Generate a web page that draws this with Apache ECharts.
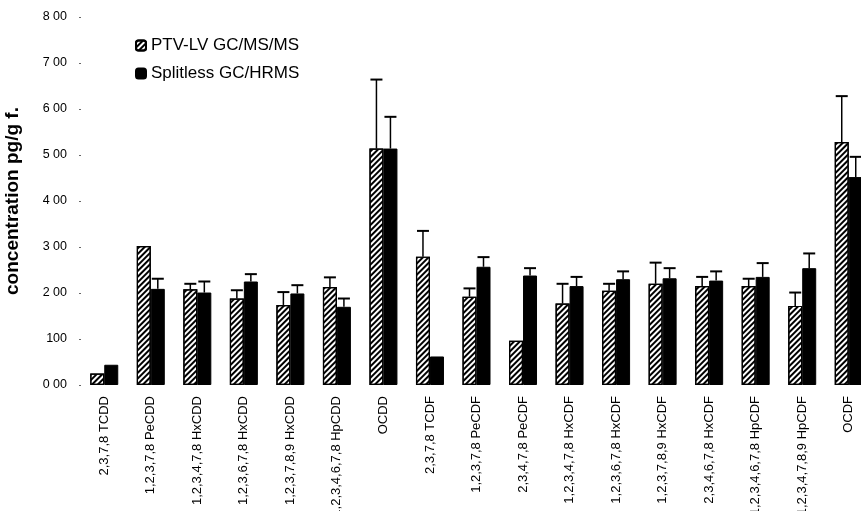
<!DOCTYPE html>
<html><head><meta charset="utf-8">
<script src="https://cdn.jsdelivr.net/npm/echarts@6/dist/echarts.min.js"></script>
<style>html,body{margin:0;padding:0;background:#fff}#c{width:861px;height:511px}</style>
</head><body><div id="c"></div>
<script>
var categories = ["2,3,7,8 TCDD","1,2,3,7,8 PeCDD","1,2,3,4,7,8 HxCDD","1,2,3,6,7,8 HxCDD","1,2,3,7,8,9 HxCDD","1,2,3,4,6,7,8 HpCDD","OCDD","2,3,7,8 TCDF","1,2,3,7,8 PeCDF","2,3,4,7,8 PeCDF","1,2,3,4,7,8 HxCDF","1,2,3,6,7,8 HxCDF","1,2,3,7,8,9 HxCDF","2,3,4,6,7,8 HxCDF","1,2,3,4,6,7,8 HpCDF","1,2,3,4,7,8,9 HpCDF","OCDF"];
var ptvValues = [25, 302, 208, 188, 174, 213, 514, 279, 192, 96, 177, 205, 220, 215, 215, 172, 528];
var ptvErrors = [0, 0, 12, 18, 28, 21, 150, 56, 18, 0, 43, 15, 46, 20, 16, 29, 100];
var hrmsValues = [44, 209, 201, 225, 199, 170, 514, 62, 257, 238, 215, 230, 232, 227, 235, 254, 452];
var hrmsErrors = [0, 22, 24, 16, 18, 18, 69, 0, 21, 16, 20, 17, 22, 20, 30, 32, 44];
var yTickLabels = {0:"0 00",100:"100",200:"2 00",300:"3 00",400:"4 00",500:"5 00",600:"6 00",700:"7 00",800:"8 00"};
var seriesNames = ["PTV-LV GC/MS/MS", "Splitless GC/HRMS"];

var FONT = "Liberation Sans, Arial, sans-serif";
var chart = echarts.init(document.getElementById('c'), null, {renderer:'canvas'});

function errData(vals, errs){
  return vals.map(function(v,i){ return [i, v, v + errs[i]]; });
}
function errRender(offset){
  return function(params, api){
    var idx = api.value(0), v = api.value(1), top = api.value(2);
    if (top <= v) return null;
    var p0 = api.coord([idx, v]);
    var p1 = api.coord([idx, top]);
    var x = p0[0] + offset;
    var cap = 6;
    return {type:'group', children:[
      {type:'line', shape:{x1:x, y1:p0[1], x2:x, y2:p1[1]}, style:{stroke:'#000', lineWidth:1.5}},
      {type:'line', shape:{x1:x-cap, y1:p1[1], x2:x+cap, y2:p1[1]}, style:{stroke:'#000', lineWidth:2}}
    ]};
  };
}

var option = {
  backgroundColor:'#fff',
  animation:false,
  textStyle:{fontFamily:FONT},
  legend:{
    orient:'vertical', left:130, top:32, itemWidth:10, itemHeight:10, itemGap:11,
    textStyle:{fontSize:17, color:'#000', fontFamily:FONT},
    data:seriesNames
  },
  grid:{left:81, right:-11, top:17, bottom:126, containLabel:false, outerBoundsMode:'none'},
  xAxis:{
    type:'category', data:categories,
    axisLine:{show:false}, axisTick:{show:false},
    axisLabel:{rotate:90, fontSize:13, color:'#000', margin:11, interval:0, fontFamily:FONT}
  },
  yAxis:{
    type:'value', min:0, max:800, interval:100,
    name:'concentration pg/g f.', nameLocation:'middle', nameGap:59,
    nameTextStyle:{fontSize:19, fontWeight:'bold', color:'#000', fontFamily:FONT},
    axisLine:{show:false},
    axisTick:{show:true, length:2, lineStyle:{color:'#666'}},
    splitLine:{show:false},
    axisLabel:{fontSize:12.5, color:'#000', margin:14, fontFamily:FONT,
      formatter:function(v){ return yTickLabels[v] !== undefined ? yTickLabels[v] : v; }}
  },
  series:[
    {name:seriesNames[0], type:'bar', data:ptvValues, barWidth:14, barGap:'0%',
     itemStyle:{color:'#fff', borderColor:'#000', borderWidth:1.2,
       decal:{symbol:'rect', symbolSize:1, dashArrayX:[1,0], dashArrayY:[1.6,1.6], rotation:-Math.PI/4, color:'#000'}}},
    {name:seriesNames[1], type:'bar', data:hrmsValues, barWidth:14, barGap:'0%',
     itemStyle:{color:'#000', borderColor:'#000', borderWidth:1}},
    {type:'custom', name:'errA', data:errData(ptvValues, ptvErrors), renderItem:errRender(-7),
     encode:{x:0, y:[1,2]}, z:5, silent:true},
    {type:'custom', name:'errB', data:errData(hrmsValues, hrmsErrors), renderItem:errRender(7),
     encode:{x:0, y:[1,2]}, z:5, silent:true}
  ]
};
chart.setOption(option);
</script></body></html>
